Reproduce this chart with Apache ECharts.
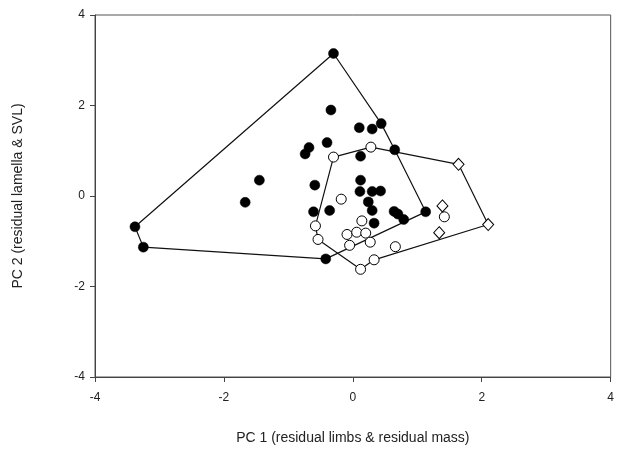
<!DOCTYPE html>
<html>
<head>
<meta charset="utf-8">
<script src="https://cdn.jsdelivr.net/npm/echarts@6/dist/echarts.min.js"></script>
<style>
html,body{margin:0;padding:0;background:#fff;}
#chart{width:617px;height:450px;}
</style>
</head>
<body>
<div id="chart"></div>
<script>
// Data
var filledPoints = [
  [-0.30, 3.15], [-0.34, 1.90], [0.10, 1.51], [0.30, 1.48], [0.44, 1.60],
  [-0.40, 1.18], [-0.68, 1.07], [-0.74, 0.93], [0.65, 1.02], [0.12, 0.88],
  [-1.45, 0.35], [-0.59, 0.24], [0.12, 0.35], [0.11, 0.10], [0.30, 0.10],
  [0.43, 0.11], [-1.67, -0.14], [0.24, -0.13], [0.30, -0.32], [-0.61, -0.35],
  [-0.36, -0.32], [0.64, -0.34], [0.70, -0.40], [0.79, -0.52], [1.13, -0.35],
  [0.33, -0.60], [-3.38, -0.68], [-3.25, -1.13], [-0.42, -1.39]
];
var openPoints = [
  [-0.30, 0.86], [0.28, 1.08], [-0.18, -0.07], [1.42, -0.46], [-0.58, -0.66],
  [-0.54, -0.96], [0.14, -0.55], [-0.09, -0.85], [0.06, -0.80], [0.20, -0.82],
  [-0.05, -1.09], [0.27, -1.02], [0.66, -1.12], [0.33, -1.41], [0.12, -1.62]
];
var diamondPoints = [
  [1.64, 0.70], [1.39, -0.22], [1.34, -0.81], [2.10, -0.63]
];
var filledHull = [
  [-0.30, 3.15], [0.44, 1.60], [0.65, 1.02], [1.13, -0.35], [-0.42, -1.39],
  [-3.25, -1.13], [-3.38, -0.68], [-0.30, 3.15]
];
var openHull = [
  [-0.30, 0.86], [0.28, 1.08], [1.64, 0.70], [2.10, -0.63], [0.33, -1.41],
  [0.12, -1.62], [-0.54, -0.96], [-0.58, -0.66], [-0.30, 0.86]
];
var xTicks = [-4, -2, 0, 2, 4];
var yTicks = [-4, -2, 0, 2, 4];
var xTitle = 'PC 1 (residual limbs & residual mass)';
var yTitle = 'PC 2 (residual lamella & SVL)';

var chart = echarts.init(document.getElementById('chart'), null, {renderer: 'canvas'});
var font = 'Liberation Sans, Arial, sans-serif';
var axisCol = '#444';
var option = {
  animation: false,
  backgroundColor: '#fff',
  grid: {left: 95, right: 4, top: 15, bottom: 73, show: true, borderColor: '#555', borderWidth: 1},
  xAxis: {
    type: 'value', min: xTicks[0], max: xTicks[xTicks.length - 1], interval: 2,
    name: xTitle, nameLocation: 'middle', nameGap: 54,
    nameTextStyle: {fontFamily: font, fontSize: 14, color: '#222'},
    axisLine: {onZero: false, lineStyle: {color: axisCol, width: 1}},
    axisTick: {show: true, inside: false, length: 5, lineStyle: {color: axisCol}},
    axisLabel: {fontFamily: font, fontSize: 12, color: '#222', margin: 15},
    splitLine: {show: false}
  },
  yAxis: {
    type: 'value', min: yTicks[0], max: yTicks[yTicks.length - 1], interval: 2,
    name: yTitle, nameLocation: 'middle', nameGap: 70, nameRotate: 90,
    nameTextStyle: {fontFamily: font, fontSize: 14, color: '#222'},
    axisLine: {onZero: false, lineStyle: {color: axisCol, width: 1}},
    axisTick: {show: true, inside: false, length: 5, lineStyle: {color: axisCol}},
    axisLabel: {fontFamily: font, fontSize: 12, color: '#222', margin: 10},
    splitLine: {show: false}
  },
  series: [
    {type: 'line', data: filledHull, symbol: 'none', lineStyle: {color: '#111', width: 1.2}, z: 1, silent: true},
    {type: 'line', data: openHull, symbol: 'none', lineStyle: {color: '#111', width: 1.2}, z: 1, silent: true},
    {type: 'scatter', data: filledPoints, symbol: 'circle', symbolSize: 10,
     itemStyle: {color: '#000', borderColor: '#000', borderWidth: 0.5, opacity: 1}, z: 3},
    {type: 'scatter', data: openPoints, symbol: 'circle', symbolSize: 10,
     itemStyle: {color: '#fff', borderColor: '#000', borderWidth: 1, opacity: 1}, z: 4},
    {type: 'scatter', data: diamondPoints, symbol: 'diamond', symbolSize: [11, 12],
     itemStyle: {color: '#fff', borderColor: '#000', borderWidth: 1, opacity: 1}, z: 4}
  ]
};
chart.setOption(option);
</script>
</body>
</html>
